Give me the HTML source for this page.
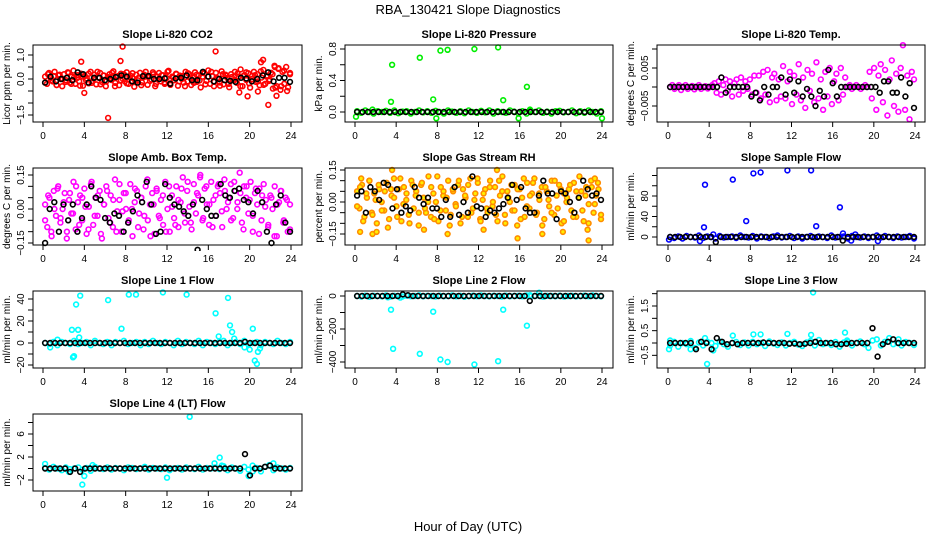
<!DOCTYPE html>
<html><head><meta charset="utf-8"><style>
body{margin:0;background:#fff;}
svg{display:block;font-family:"Liberation Sans",Arial,sans-serif;}
</style></head><body>
<svg id="chart" width="936" height="540" viewBox="0 0 936 540">
<rect width="936" height="540" fill="#fff"/>
<text x="468" y="14" text-anchor="middle" font-size="13">RBA_130421  Slope Diagnostics</text>
<text x="468" y="531" text-anchor="middle" font-size="13">Hour of Day (UTC)</text>
</svg>
<script>
// ---- data ----
const hourTicks = [0,4,8,12,16,20,24];
// CO2
const co2Cloud = [0.1,-0.2,0.25,0.05,-0.1,0.3,-0.25,0.15,0.0,-0.3,0.2,-0.05,0.28,-0.15,0.1,0.35,-0.2,0.05,-0.1,0.22,-0.28,0.12,0.02,-0.18,0.3,-0.08,0.18,-0.22,0.06,0.25,-0.12,0.15,-0.3,0.08,0.2,-0.04,0.32,-0.16,0.1,-0.26,0.22,0.0,-0.1,0.28,-0.2,0.14,0.05,-0.32,0.18,-0.06,0.26,-0.14,0.08,0.3,-0.24,0.12,-0.02,0.2,-0.3,0.1,0.25,-0.1,0.16,-0.2,0.04,0.34,-0.18,0.1,-0.05,0.22,-0.28,0.14,0.0,-0.15,0.3,-0.1,0.2,-0.25,0.06,0.28,-0.12,0.15,-0.35,0.1,0.24,-0.08,0.36,-0.2,0.12,-0.3,0.26,0.02,-0.14,0.32,-0.22,0.18,0.04,-0.34,0.2,-0.06,0.3,-0.16,0.1,0.4,-0.3,0.16,-0.04,0.24,-0.36,0.12,0.3,-0.12,0.2,-0.26,0.06,0.38,-0.2,0.14,-0.08,0.26,-0.4,0.5,-0.3,0.45,-0.45,0.3,-0.2,0.5,-0.35,0.2];
const co2Cloud2 = [-0.15,0.2,-0.05,0.12,-0.25,0.18,0.0,-0.12,0.25,-0.2,0.08,0.16,-0.28,0.1,-0.04,0.22,-0.16,0.06,0.3,-0.22,0.14,-0.1,0.02,0.26,-0.3,0.12,-0.06,0.2,-0.18,0.08,0.24,-0.12,0.04,-0.26,0.18,0.1,-0.08,0.28,-0.2,0.0,0.16,-0.14,0.3,-0.24,0.06,0.2,-0.1,0.12,-0.3,0.24,0.02,-0.16,0.18,-0.06,0.26,-0.22,0.1,0.3,-0.12,0.04,-0.28,0.2,0.14,-0.2,0.08,-0.04,0.22,-0.3,0.12,0.28,-0.18,0.0,0.16,-0.1,0.32,-0.24,0.1,-0.02,0.2,-0.36,0.42,-0.3,0.35,-0.5,0.25];
const co2OutHours = [7.7,16.7,3.7,7.5,21.3,6.3,21.8,19.8,4.0,20.8,22.6,19.0,21.1,22.4];
const co2OutValues = [1.35,1.15,0.72,0.75,0.8,-1.62,-1.08,-0.72,-0.58,-0.52,-0.7,-0.56,0.7,0.55];
const co2Black = [-0.15,0.1,-0.1,0.0,0.05,-0.05,0.28,0.2,-0.15,0.05,0.05,-0.05,0.0,0.08,0.15,0.1,-0.1,-0.15,0.12,0.12,0.0,0.0,0.03,-0.2,0.02,0.05,0.15,-0.05,-0.05,0.3,0.1,-0.1,0.0,-0.05,-0.08,-0.12,0.05,0.02,-0.1,0.0,0.15,0.28,-0.1,0.05,0.05,-0.12];
// Pressure
const presCloud = [0.01,-0.01,0.02,0.0,-0.02,0.01,0.0,0.015,-0.01,0.02,-0.015,0.005,0.01,-0.02,0.0,0.02,-0.005,0.01,-0.01,0.015,0.0,-0.02,0.02,0.005,-0.01,0.01,-0.015,0.02,0.0,-0.01,0.015,-0.005,0.02,-0.02,0.01,0.0,-0.01,0.02,0.005,-0.015,0.01,-0.02,0.015,0.0,0.02,-0.01,0.005,-0.02,0.01,0.015,-0.005,0.0,0.02,-0.015,0.01,-0.01,0.02,0.0,-0.02,0.01];
const presOutHours = [3.6,3.5,6.3,7.6,8.3,9.0,11.6,13.9,14.4,16.7,7.9,15.9,24.0,0.1,1.7,17.0];
const presOutValues = [0.6,0.13,0.69,0.16,0.78,0.79,0.8,0.82,0.15,0.32,-0.08,-0.08,-0.08,-0.06,0.03,0.03];
const presBlack = [0.0,0.0,0.0,0.0,0.0,0.0,0.0,0.0,0.0,0.0,0.0,0.0,0.0,0.0,0.0,0.0,0.0,0.0,0.0,0.0,0.0,0.0,0.0,0.0,0.0,0.0,0.0,0.0,0.0,0.0,0.0,0.0,0.0,0.0,0.0,0.0,0.0,0.0,0.0,0.0,0.0,0.0,0.0,0.0,0.0,0.0];
// Li-820 Temp
const tempCloud = [0.0,0.0005,-0.0005,0.0,0.0005,-0.0008,0.0,0.0005,-0.0005,0.0,0.0003,-0.0006,0.0,0.0005,-0.0005,0.0,0.0002,-0.0004,0.0,0.0005,
 0.001,-0.0015,0.0015,-0.002,0.0005,0.002,-0.001,0.0015,-0.0025,0.001,0.002,-0.002,0.0025,-0.001,0.0015,-0.0005,0.002,-0.002,0.003,-0.0015,
 0.003,-0.003,0.004,-0.002,0.0045,-0.004,0.0025,0.0035,-0.0035,0.002,-0.0025,0.0055,-0.003,0.0015,0.004,-0.0045,0.003,-0.002,0.006,-0.0035,0.0025,-0.0055,0.0045,-0.001,0.0035,-0.004,0.0065,-0.003,0.002,-0.006,0.004,-0.0025,0.005,-0.0045,0.0015,0.0035,-0.0035,0.005,-0.002,0.0025,
 0.0,0.0005,-0.0005,0.0,0.0005,0.0,-0.0005,0.0,0.0005,0.0,
 0.004,-0.003,0.005,-0.006,0.003,0.006,-0.004,0.0045,-0.0075,0.002,0.007,-0.005,0.0035,-0.0065,0.005,0.011,-0.006,0.003,-0.0085,0.004,0.002];
const tempBlack = [0,0,0,0,0,0,0,0,0,0,0,0,0.0025,-0.0015,0,0,0,0,0,-0.0025,-0.0015,-0.0035,0,-0.002,0,0,0.0025,-0.002,0.002,-0.0015,0.0015,-0.0025,-0.0005,-0.0025,-0.005,-0.001,-0.0025,0.0045,0.001,-0.0025,0,0,0,0,0,0,0,0,0,-0.0015,0.0015,0.0015,-0.0015,-0.0015,0.0025,-0.0025,0.001,-0.0055];
// Amb box temp
const ambCloud = [0.02,-0.08,0.05,-0.12,0.08,-0.03,0.1,-0.06,0.0,0.07,-0.1,0.04,-0.02,0.12,-0.09,0.03,0.06,-0.05,0.09,-0.11,0.01,0.11,-0.07,0.05,-0.03,0.08,-0.13,0.02,0.1,-0.04,0.06,-0.08,0.13,-0.01,0.04,-0.1,0.07,0.0,-0.06,0.11,-0.12,0.03,0.08,-0.02,0.05,-0.09,0.1,-0.05,0.02,0.07,-0.11,0.09,-0.03,0.04,-0.07,0.12,0.0,-0.1,0.06,-0.04,0.1,-0.08,0.03,0.14,-0.06,0.08,0.01,-0.09,0.11,-0.02,0.06,0.15,-0.05,0.09,0.02,-0.07,0.12,0.04,-0.03,0.1,0.07,-0.08,0.13,0.0,0.05,0.11,-0.04,0.08,0.03,0.16,-0.06,0.1,0.05,-0.02,0.12,-0.1,0.07,0.02,0.09,-0.05,0.11,0.04,-0.08,0.06,0.0,0.1,-0.12,0.03,0.08,-0.06,0.05,-0.1,0.02];
const ambCloud2 = [-0.05,0.06,-0.1,0.0,0.09,-0.04,0.03,-0.13,0.07,-0.02,0.1,-0.07,0.05,0.01,-0.09,0.12,-0.03,0.06,-0.11,0.02,0.08,-0.06,0.04,-0.1,0.11,-0.01,0.07,-0.05,0.0,0.09,-0.08,0.05,-0.03,0.13,-0.12,0.02,0.08,-0.04,0.06,-0.1,0.1,0.01,-0.07,0.04,0.09,-0.02,0.12,-0.06,0.03,0.07,0.14,-0.04,0.1,0.02,-0.08,0.06,0.11,-0.01,0.08,0.03,-0.05,0.12,0.0,0.07,-0.09,0.1,0.04,-0.03,0.09,-0.11,0.06,0.01,-0.07,0.05,-0.12,0.02,0.08,-0.05,0.04,-0.09];
const ambBlack = [-0.15,0.0,0.03,-0.1,0.02,-0.05,0.02,-0.1,-0.04,0.02,0.1,0.05,0.04,-0.04,-0.06,-0.02,-0.03,-0.1,-0.06,-0.01,0.06,0.03,0.12,0.02,-0.11,-0.1,0.11,0.05,0.02,0.01,-0.01,-0.03,0.02,-0.18,0.04,0.0,-0.03,-0.03,0.11,0.06,0.05,0.08,0.09,0.04,0.03,-0.02,0.08,0.03,-0.1,-0.15,0.02,0.06,-0.06,-0.1];
// RH
const rhCloud = [0.05,-0.03,0.08,-0.07,0.02,0.1,-0.05,0.04,-0.1,0.06,0.0,-0.04,0.09,-0.08,0.03,0.11,-0.02,0.06,-0.09,0.07,0.01,-0.06,0.1,-0.03,0.05,-0.11,0.08,0.02,-0.05,0.12,-0.07,0.04,0.0,-0.09,0.07,0.03,-0.04,0.1,-0.06,0.05,-0.01,0.08,-0.1,0.06,0.02,-0.07,0.11,-0.03,0.04,0.09,-0.08,0.01,0.06,-0.05,0.1,-0.02,0.07,-0.09,0.03,0.12,-0.06,0.05,0.0,-0.04,0.08,-0.11,0.06,0.02,-0.07,0.09,-0.03,0.04,0.11,-0.05,0.01,0.07,-0.08,0.05,-0.02,0.1,-0.06,0.03,0.08,-0.1,0.04,0.0,0.06,-0.04,0.09,-0.07,0.02,0.05,-0.09,0.07,-0.01,0.1,-0.05,0.03,0.06,-0.08];
const rhCloud2 = [-0.02,0.07,-0.09,0.04,0.1,-0.06,0.01,0.08,-0.04,0.05,-0.12,0.06,0.02,-0.07,0.11,-0.01,0.04,-0.1,0.08,0.03,-0.05,0.09,-0.03,0.0,0.07,-0.08,0.12,-0.04,0.05,0.02,-0.11,0.06,-0.02,0.1,-0.07,0.03,0.08,-0.05,0.01,0.11,-0.09,0.04,-0.03,0.07,0.0,-0.06,0.1,0.05,-0.1,0.02,0.08,-0.04,0.06,-0.08,0.11,-0.02,0.03,0.09,-0.06,0.04,-0.11,0.07,0.01,-0.05,0.1,-0.03,0.06,-0.09,0.02,0.08,-0.07,0.05,0.12,-0.04,0.03,-0.1,0.07,-0.01,0.09,-0.06];
const rhOutHours = [0.5,1.7,3.6,6.7,12.5,13.8,15.8,18.2,20.2,22.6,22.7,23.3,0.6,2.1,9.0];
const rhOutValues = [-0.14,-0.15,0.15,-0.13,-0.13,0.15,-0.17,-0.15,-0.14,-0.13,-0.18,0.11,0.11,-0.14,-0.15];
const rhBlack = [0.03,0.05,-0.05,0.07,0.05,0.01,0.09,0.08,-0.03,0.06,-0.05,-0.02,-0.04,0.07,0.02,-0.01,0.02,-0.03,-0.03,-0.07,0.01,-0.07,0.07,-0.06,0.0,-0.05,0.12,-0.02,-0.03,-0.07,-0.04,-0.05,-0.03,-0.01,0.02,0.08,0.01,0.07,-0.03,-0.05,-0.05,0.03,0.1,0.04,0.04,-0.08,0.05,0.04,0.0,-0.05,0.02,0.1,0.06,0.03,0.04,0.01];
// Sample flow
const sfCloud = [0,-2,1,-3,2,0,-1,3,-2,1,0,-3,2,-1,0,1,-2,3,0,-1,2,-3,1,0,-2,1,3,-1,0,2,-2,1,-3,0,2,-1,1,0,-2,3,-1,0,1,-3,2,0,-1,1,-2,0,3,-1,2,0,-2,1,-1,0,2,-3];
const sfOutHours = [3.6,3.5,6.3,7.6,8.3,9.0,11.6,13.9,14.4,16.7,17.0,18.2,4.4,3.1,20.4,0.1,17.8];
const sfOutValues = [102,19,112,31,124,126,130,130,21,58,7,5,5,-8,-8,-5,-7];
const sfBlack = [0,0,0,0,0,0,0,0,0,-10,0,0,0,0,0,0,0,0,0,0,0,0,0,0,0,0,0,0,0,0,0,0,0,0,-7,0,0,0,0,0,0,0,0,0,0,0,0,0,0];
// Line 1
const l1Cloud = [0,-1,1,-2,1,0,-1,2,-1,0,1,-2,2,0,-1,1,-2,1,0,2,-1,0,1,-2,1,-1,2,0,-1,1,0,-2,2,-1,1,0,-1,2,-2,1,0,-1,1,2,-2,0,1,-1,2,-1,0,1,-2,1,0,-1,2,0,-1,1];
const l1OutHours = [3.2,3.6,2.8,3.4,3.5,2.9,3.0,6.3,7.6,8.3,9.0,11.6,13.9,16.7,17.0,17.9,18.1,18.3,18.5,20.3,20.0,20.5,20.7,20.8,21.0,19.5,0.7,1.4];
const l1OutValues = [35,43,12,12,5,-13,-12,39,13,44,44,46,44,27,6,41,16,10,4,13,-6,-16,-19,-8,-5,-4,-4,3];
const l1Black = [0,0,0,0,0,0,0,0,0,0,0,0,0,0,0,0,0,0,0,0,0,0,0,0,0,0,0,0,0,0,0,0,0,0,0,0,0,0,0,0,1,0,0,0,0,0,0,0,0,0];
// Line 2
const l2Cloud = [0,-3,2,-5,1,0,-2,3,-4,1,0,-3,2,-1,0,4,-2,1,0,-3,2,-1,0,3,-2,1,-4,0,2,-1,3,0,-2,1,0,-3,2,-1,0,1,-2,3,-1,0,2,-4,1,0,-1,2,-3,0,1,-2,0,2,-1,3,0,-2];
const l2OutHours = [3.5,3.7,6.3,7.6,8.3,9.0,11.6,13.9,14.4,16.7,17.9,17.0,4.4,3.2];
const l2OutValues = [-83,-320,-350,-95,-385,-400,-415,-395,-83,-180,20,5,-10,-8];
const l2Black = [0,0,0,0,0,0,0,0,0,10,5,0,0,0,0,0,0,0,0,0,0,0,0,0,0,0,0,0,0,0,0,0,0,0,-30,0,0,0,0,0,0,0,0,0,0,0,0,0,0];
// Line 3
const l3Cloud = [-0.1,0.05,-0.15,0.0,-0.05,0.08,-0.2,0.02,-0.1,0.05,0.0,-0.12,0.06,-0.05,-0.15,0.0,0.04,-0.08,0.02,-0.1,0.05,-0.05,0.0,-0.12,0.06,-0.02,-0.08,0.03,-0.1,0.0,0.05,-0.06,-0.12,0.02,0.08,-0.1,0.12,-0.05,0.0,-0.08,0.04,-0.15,0.02,0.05,-0.1,0.0,0.06,-0.05,-0.2,0.1,0.15,-0.1,0.05,0.2,-0.05,0.0,-0.1,0.04,0.0,-0.08];
const l3OutHours = [14.1,3.8,3.6,6.3,8.3,9.0,11.6,13.9,17.2,0.2,0.1,4.4,2.2,17.4,22.4];
const l3OutValues = [2.05,-0.85,0.2,0.3,0.35,0.35,0.37,0.33,0.42,0.1,-0.25,-0.3,-0.25,0.1,0.15];
const l3Black = [0,0,0,0,0,-0.25,0.05,0.0,-0.25,0.2,0.05,-0.05,0.0,-0.05,0.0,0.0,0.0,0.0,0.02,0.0,0.0,0.0,0.0,-0.03,-0.02,-0.05,-0.03,0.0,0.05,0.0,0.0,0.0,-0.05,-0.05,-0.03,0.0,0.0,0.0,0.0,0.6,-0.55,-0.05,0.05,0.15,0.0,0.0,0.0,0.0];
// Line 4
const l4Cloud = [0.1,-0.2,0.3,0.0,-0.3,0.2,-0.1,0.0,0.2,-0.2,0.1,-0.4,0.3,0.0,-0.1,0.2,-0.2,0.1,0.0,-0.3,0.2,0.1,-0.1,0.0,0.3,-0.2,0.1,0.0,-0.1,0.2,-0.3,0.0,0.1,-0.2,0.2,0.0,-0.1,0.3,-0.2,0.1,0.0,0.2,-0.1,0.4,-0.3,0.2,0.0,-0.4,0.3,-0.2,0.5,0.1,-0.5,0.3,0.6,-0.3,0.2,0.0,-0.2,0.1];
const l4OutHours = [14.2,3.8,4.0,12.0,17.1,16.6,0.2,4.8,19.9,22.3,2.5,20.3,21.9,17.3];
const l4OutValues = [9,-2.8,-1.3,-1.6,1.9,0.9,0.8,0.6,-1.3,0.9,-0.6,-0.5,0.5,0.5];
const l4Black = [0,0,0,0,0,-0.6,0,-0.6,0,0,0,0,0,0,0,0,0,0,0,0,0,0,0,0,0,0,0,0,0,0,0,0,0,0,0,0,0,0,0,0,2.5,-1.2,0,0,0.3,0.5,0,0,0,0];

// ---- layout ----
const NS = "http://www.w3.org/2000/svg";
const svg = document.getElementById('chart');
const colL = [33,345,657], colR = [302,613,925], col0 = [43,355,668], col24 = [291,602,915];
const rowT = [45,168,291,414], rowB = [122,245,368,491];

function mk(tag, attrs, parent){
  const e = document.createElementNS(NS, tag);
  for (const k in attrs) e.setAttribute(k, attrs[k]);
  (parent||svg).appendChild(e);
  return e;
}
function evenHours(n){ const h=[]; for(let i=0;i<n;i++) h.push(0.2+23.7*i/(n-1)); return h; }

function panel(cfg){
  const c = cfg.col, r = cfg.row;
  const g = mk('g', {});
  
  
  const xs = h => col0[c] + (col24[c]-col0[c]) * h / 24;
  const ys = v => cfg.p0 + (cfg.p1-cfg.p0) * (v-cfg.v0)/(cfg.v1-cfg.v0);
  const L=colL[c], R=colR[c], T=rowT[r], B=rowB[r];
  const cp = mk('clipPath', {id:'clip'+cfg.name}, g);
  mk('rect', {x:L-4,y:T-6,width:R-L+8,height:B-T+12}, cp);
  const marks = mk('g', {'clip-path':'url(#clip'+cfg.name+')'}, g);
  
  
  cfg.series.forEach(s => {
    const hrs = s.hours || evenHours(s.values.length);
    s.values.forEach((v,i) => {
      const p = mk('circle', {cx:xs(hrs[i]).toFixed(1), cy:ys(v).toFixed(1), r:2.4, fill:s.fill||'none', stroke:s.color, 'stroke-width':1.6}, marks);
      
      
    });
  });
  const box = mk('rect', {x:L, y:T, width:R-L, height:B-T, fill:'none', stroke:'#000', 'stroke-width':1}, g);
  
  
  const t = mk('text', {x:(L+R)/2, y:T-7, 'text-anchor':'middle', 'font-size':11, 'font-weight':'bold'}, g);
  t.textContent = cfg.title;
  
  
  // x axis
  hourTicks.forEach(h => {
    mk('line', {x1:xs(h), x2:xs(h), y1:B, y2:B+5, stroke:'#000'}, g);
    const tl = mk('text', {x:xs(h), y:B+17, 'text-anchor':'middle', 'font-size':10}, g);
    tl.textContent = h;
    
    
  });
  // y axis
  cfg.yTicks.forEach(v => mk('line', {x1:L-5, x2:L, y1:ys(v), y2:ys(v), stroke:'#000'}, g));
  cfg.yLabels.forEach((lab,i) => {
    const yy = ys(cfg.yLabelVals[i]);
    const tl = mk('text', {x:L-9, y:yy, 'text-anchor':'middle', 'font-size':10, transform:'rotate(-90 '+(L-9)+' '+yy+')'}, g);
    tl.textContent = lab;
    
    
  });
  const ym = (T+B)/2, yx = L-23;
  const yt = mk('text', {x:yx, y:ym, 'text-anchor':'middle', 'font-size':10, transform:'rotate(-90 '+yx+' '+ym+')'}, g);
  yt.textContent = cfg.ylab;
  
  
}

const RED='#ff0000', GRN='#00ee00', MAG='#ff00ff', BLU='#0000ff', CYN='#00ffff', BLK='#000000', ORG='#ff8c00', YEL='#ffee00';

panel({name:'co2', col:0,row:0,title:'Slope Li-820 CO2',ylab:'Licor ppm per min.',v0:0,p0:79,v1:1,p1:55,
  yTicks:[-1.5,-1,-0.5,0,0.5,1], yLabelVals:[-1.5,0,1], yLabels:['\u22121.5','0.0','1.0'],
  series:[{name:'co2-licor',values:co2Cloud,color:RED},{name:'co2-licor-b',values:co2Cloud2,color:RED},
          {name:'co2-outlier',values:co2OutValues,hours:co2OutHours,color:RED},{name:'co2-mean',values:co2Black,color:BLK}]});
panel({name:'pressure', col:1,row:0,title:'Slope Li-820 Pressure',ylab:'kPa per min.',v0:0,p0:112,v1:0.8,p1:49,
  yTicks:[0,0.2,0.4,0.6,0.8], yLabelVals:[0,0.4,0.8], yLabels:['0.0','0.4','0.8'],
  series:[{name:'pressure-licor',values:presCloud,color:GRN},{name:'pressure-outlier',values:presOutValues,hours:presOutHours,color:GRN},{name:'pressure-mean',values:presBlack,color:BLK}]});
panel({name:'licor-temp', col:2,row:0,title:'Slope Li-820 Temp.',ylab:'degrees C per min.',v0:0,p0:87,v1:0.005,p1:68,
  yTicks:[-0.005,0,0.005,0.01], yLabelVals:[-0.005,0.005], yLabels:['\u22120.005','0.005'],
  series:[{name:'temp-licor',values:tempCloud,color:MAG},{name:'temp-mean',values:tempBlack,color:BLK}]});
panel({name:'amb-temp', col:0,row:1,title:'Slope Amb. Box Temp.',ylab:'degrees C per min.',v0:0,p0:209,v1:0.15,p1:175,
  yTicks:[-0.15,-0.1,-0.05,0,0.05,0.1,0.15], yLabelVals:[-0.15,0,0.15], yLabels:['\u22120.15','0.00','0.15'],
  series:[{name:'amb-box',values:ambCloud,color:MAG},{name:'amb-box-b',values:ambCloud2,color:MAG},{name:'amb-mean',values:ambBlack,color:BLK}]});
panel({name:'gas-rh', col:1,row:1,title:'Slope Gas Stream RH',ylab:'percent per min.',v0:0,p0:202,v1:0.15,p1:170,
  yTicks:[-0.15,-0.1,-0.05,0,0.05,0.1,0.15], yLabelVals:[-0.15,0,0.15], yLabels:['\u22120.15','0.00','0.15'],
  series:[{name:'rh-a',values:rhCloud,color:ORG,fill:YEL},{name:'rh-b',values:rhCloud2,color:ORG,fill:YEL},
          {name:'rh-outlier',values:rhOutValues,hours:rhOutHours,color:ORG,fill:YEL},{name:'rh-mean',values:rhBlack,color:BLK}]});
panel({name:'sample-flow', col:2,row:1,title:'Slope Sample Flow',ylab:'ml/min per min.',v0:0,p0:237,v1:80,p1:196,
  yTicks:[0,20,40,60,80,100,120], yLabelVals:[0,40,80], yLabels:['0','40','80'],
  series:[{name:'sample-flow',values:sfCloud,color:BLU},{name:'sample-flow-outlier',values:sfOutValues,hours:sfOutHours,color:BLU},{name:'sample-flow-mean',values:sfBlack,color:BLK}]});
panel({name:'line1', col:0,row:2,title:'Slope Line 1 Flow',ylab:'ml/min per min.',v0:0,p0:343,v1:40,p1:299,
  yTicks:[-20,-10,0,10,20,30,40], yLabelVals:[-20,0,20,40], yLabels:['\u221220','0','20','40'],
  series:[{name:'line1-flow',values:l1Cloud,color:CYN},{name:'line1-outlier',values:l1OutValues,hours:l1OutHours,color:CYN},{name:'line1-mean',values:l1Black,color:BLK}]});
panel({name:'line2', col:1,row:2,title:'Slope Line 2 Flow',ylab:'ml/min per min.',v0:0,p0:296,v1:-400,p1:362,
  yTicks:[-400,-300,-200,-100,0], yLabelVals:[-400,-200,0], yLabels:['\u2212400','\u2212200','0'],
  series:[{name:'line2-flow',values:l2Cloud,color:CYN},{name:'line2-outlier',values:l2OutValues,hours:l2OutHours,color:CYN},{name:'line2-mean',values:l2Black,color:BLK}]});
panel({name:'line3', col:2,row:2,title:'Slope Line 3 Flow',ylab:'ml/min per min.',v0:0,p0:343,v1:1.5,p1:306,
  yTicks:[-0.5,0,0.5,1,1.5,2], yLabelVals:[-0.5,0.5,1.5], yLabels:['\u22120.5','0.5','1.5'],
  series:[{name:'line3-flow',values:l3Cloud,color:CYN},{name:'line3-outlier',values:l3OutValues,hours:l3OutHours,color:CYN},{name:'line3-mean',values:l3Black,color:BLK}]});
panel({name:'line4', col:0,row:3,title:'Slope Line 4 (LT) Flow',ylab:'ml/min per min.',v0:2,p0:457,v1:6,p1:434,
  yTicks:[-2,0,2,4,6,8], yLabelVals:[-2,2,6], yLabels:['\u22122','2','6'],
  series:[{name:'line4-flow',values:l4Cloud,color:CYN},{name:'line4-outlier',values:l4OutValues,hours:l4OutHours,color:CYN},{name:'line4-mean',values:l4Black,color:BLK}]});
</script>
</body></html>
